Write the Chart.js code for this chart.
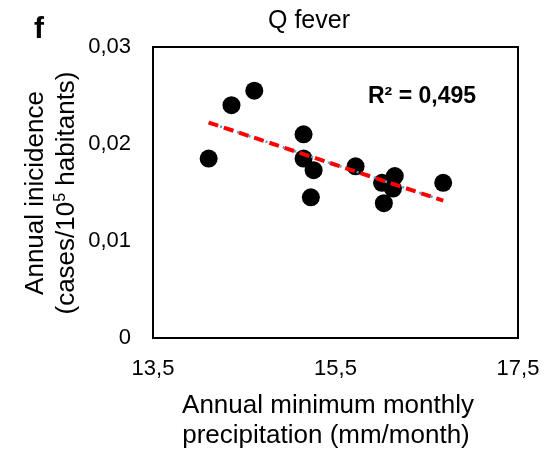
<!DOCTYPE html>
<html>
<head>
<meta charset="utf-8">
<script src="https://cdn.jsdelivr.net/npm/chart.js@4.4.1/dist/chart.umd.min.js"></script>
<style>
  html, body { margin: 0; padding: 0; background: #fff; }
  #wrap { width: 546px; height: 452px; }
</style>
</head>
<body>
<div id="wrap"><canvas id="chart" width="546" height="452"></canvas></div>
<script>
// data
const precipitation = [14.11, 14.36, 14.61, 15.15, 15.15, 15.26, 15.23, 15.72, 16.01, 16.03, 16.15, 16.13, 16.68];
const incidence = [0.0185, 0.0240, 0.0255, 0.0210, 0.0185, 0.0173, 0.0145, 0.0177, 0.0160, 0.0139, 0.0167, 0.0154, 0.0160];
const xTicks = [13.5, 15.5, 17.5];
const yTicks = [0, 0.01, 0.02, 0.03];
const r2Label = 'R² = 0,495';

const FONT = '"Liberation Sans", Arial, sans-serif';

// least squares trend line across the data range
function trend(xs, ys) {
    const n = xs.length;
    const mx = xs.reduce((a, b) => a + b, 0) / n;
    const my = ys.reduce((a, b) => a + b, 0) / n;
    let sxy = 0, sxx = 0;
    for (let i = 0; i < n; i++) {
        sxy += (xs[i] - mx) * (ys[i] - my);
        sxx += (xs[i] - mx) * (xs[i] - mx);
    }
    const b = sxy / sxx;
    const a = my - b * mx;
    const x0 = Math.min(...xs), x1 = Math.max(...xs);
    return [{ x: x0, y: a + b * x0 }, { x: x1, y: a + b * x1 }];
}

const points = precipitation.map((x, i) => ({ x: x, y: incidence[i] }));
const fit = trend(precipitation, incidence);

const fmt = v => String(v).replace('.', ',');

// text with a raised superscript part, centred on x
function drawSup(ctx, parts, x, y, size) {
    const big = size + 'px ' + FONT, small = Math.round(size * 0.62) + 'px ' + FONT;
    let w = 0;
    parts.forEach(p => { ctx.font = p.sup ? small : big; w += ctx.measureText(p.t).width; });
    let cx = x - w / 2;
    ctx.textAlign = 'left';
    parts.forEach(p => {
        ctx.font = p.sup ? small : big;
        ctx.fillText(p.t, cx, p.sup ? y - size * 0.36 : y);
        cx += ctx.measureText(p.t).width;
    });
}

// frame, titles and R² text
const decor = {
    id: 'decor',
    afterDatasetsDraw(chart) {
        const ctx = chart.ctx;
        const a = chart.chartArea;
        ctx.save();
        ctx.strokeStyle = '#000';
        ctx.lineWidth = 2;
        ctx.strokeRect(a.left, a.top, a.right - a.left, a.bottom - a.top);

        ctx.fillStyle = '#000';
        ctx.textBaseline = 'alphabetic';

        ctx.font = 'bold 30px ' + FONT;
        ctx.textAlign = 'left';
        ctx.fillText('f', 34, 38);

        ctx.font = '25px ' + FONT;
        ctx.textAlign = 'center';
        ctx.fillText('Q fever', 309, 28);

        ctx.font = 'bold 23px ' + FONT;
        ctx.textAlign = 'left';
        ctx.fillText(r2Label, 368, 103);

        ctx.font = '26px ' + FONT;
        ctx.textAlign = 'center';
        ctx.fillText('Annual minimum monthly', 328, 413);
        ctx.fillText('precipitation (mm/month)', 326, 443);

        ctx.translate(0, 193);
        ctx.rotate(-Math.PI / 2);
        ctx.textAlign = 'center';
        ctx.fillText('Annual inicidence', 0, 43);
        drawSup(ctx, [{ t: '(cases/10' }, { t: '5', sup: true }, { t: ' habitants)' }], 0, 74, 26);
        ctx.restore();
    }
};

new Chart(document.getElementById('chart'), {
    type: 'scatter',
    data: {
        datasets: [
            {
                type: 'line',
                data: fit,
                borderColor: '#FF0000',
                borderWidth: 4,
                borderDash: [10, 6],
                pointRadius: 0,
                fill: false
            },
            {
                type: 'line',
                data: fit,
                borderColor: '#5B9BD5',
                borderWidth: 2.5,
                borderDash: [2, 4],
                pointRadius: 0,
                fill: false
            },
            {
                data: points,
                backgroundColor: '#000',
                borderWidth: 0,
                pointRadius: 9,
                pointHoverRadius: 9
            }
        ]
    },
    plugins: [decor],
    options: {
        responsive: false,
        animation: false,
        layout: { padding: { top: 47, right: 28, left: 0, bottom: 0 } },
        plugins: {
            legend: { display: false },
            tooltip: { enabled: false }
        },
        scales: {
            x: {
                type: 'linear',
                min: 13.5,
                max: 17.5,
                afterFit: s => { s.height = 114; s.paddingLeft = 0; s.paddingRight = 0; },
                afterBuildTicks: s => { s.ticks = xTicks.map(v => ({ value: v })); },
                grid: { display: false, drawTicks: false },
                border: { display: false },
                ticks: {
                    padding: 18,
                    color: '#000',
                    font: { family: FONT, size: 22 },
                    callback: v => fmt(v)
                }
            },
            y: {
                min: 0,
                max: 0.03,
                afterFit: s => { s.width = 153; s.paddingTop = 0; s.paddingBottom = 0; },
                afterBuildTicks: s => { s.ticks = yTicks.map(v => ({ value: v })); },
                grid: { display: false, drawTicks: false },
                border: { display: false },
                ticks: {
                    padding: 22,
                    color: '#000',
                    font: { family: FONT, size: 22 },
                    callback: v => fmt(v)
                }
            }
        }
    }
});
</script>
</body>
</html>
